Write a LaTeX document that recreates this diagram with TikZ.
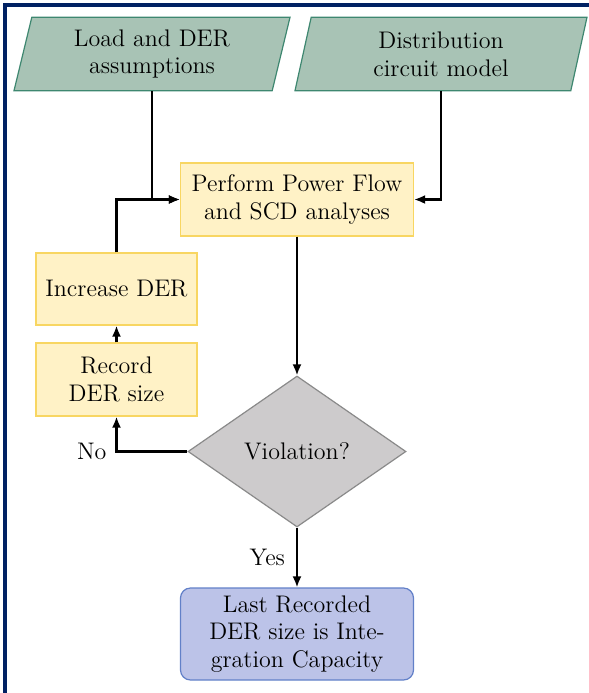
\documentclass[tikz,border=0pt]{standalone}
\usetikzlibrary{shapes.geometric,arrows.meta}
\definecolor{inputfill}{RGB}{168,195,181}
\definecolor{inputdraw}{RGB}{62,135,112}
\definecolor{procfill}{RGB}{255,242,198}
\definecolor{procdraw}{RGB}{248,214,98}
\definecolor{decfill}{RGB}{205,203,204}
\definecolor{decdraw}{RGB}{138,138,138}
\definecolor{endfill}{RGB}{188,195,232}
\definecolor{enddraw}{RGB}{98,128,200}
\definecolor{framenavy}{RGB}{0,33,99}
\begin{document}
\begin{tikzpicture}[x=0.5pt,y=-0.5pt,
  font=\fontsize{12}{13.8}\selectfont,
  inputbox/.style={trapezium, trapezium left angle=70, trapezium right angle=110,
    trapezium stretches body, draw=inputdraw, fill=inputfill, line width=0.6pt,
    minimum height=36.7pt, align=center, inner sep=0pt},
  procbox/.style={rectangle, draw=procdraw, fill=procfill, line width=0.6pt,
    align=center, inner sep=0pt},
  decbox/.style={diamond, draw=decdraw, fill=decfill, line width=0.6pt,
    inner sep=0pt, minimum width=109pt, minimum height=75.5pt},
  endbox/.style={rectangle, rounded corners=5pt, draw=enddraw, fill=endfill,
    line width=0.6pt, align=center, inner sep=0pt,
    minimum width=116.5pt, minimum height=46pt},
  flow/.style={line width=1.05pt, -{Latex[length=5.5pt,width=4.5pt]}},
  edgelabel/.style={inner sep=0pt}]
\useasboundingbox (0,0) rectangle (589,693);

% frame
\draw[framenavy, line width=2pt] (5.3,693) -- (5.3,5) -- (589,5);

% inputs
\node[inputbox, minimum width=138pt] (load) at (152,54) {Load and DER\\assumptions};
\node[inputbox, minimum width=146pt] (dist) at (441,54) {Distribution\\circuit model};

% process steps
\node[procbox, minimum width=116.5pt, minimum height=36.5pt] (perform) at (297,199.5)
  {Perform Power Flow\\and SCD analyses};
\node[procbox, minimum width=80.5pt, minimum height=36pt] (increase) at (116.5,289)
  {Increase DER};
\node[procbox, minimum width=80.5pt, minimum height=36.5pt] (record) at (116.5,379.5)
  {Record\\DER size};
\node[decbox] (viol) at (297,451.5) {Violation?};
\node[endbox] (last) at (297,634) {Last Recorded\\DER size is Inte-\\gration Capacity};

% connectors
\draw[flow] (load.south) |- (perform.west);
\draw[flow] (increase.north) |- (perform.west);
\draw[flow] (dist.south) |- (perform.east);
\draw[flow] (perform.south) -- (viol.north);
\draw[flow] (viol.west) -| node[edgelabel, pos=0.5, anchor=east, xshift=-4.5pt] {No} (record.south);
\draw[flow] (record.north) -- (increase.south);
\draw[flow] (viol.south) -- node[edgelabel, pos=0.5, anchor=east, xshift=-5.5pt] {Yes} (last.north);
\end{tikzpicture}
\end{document}
